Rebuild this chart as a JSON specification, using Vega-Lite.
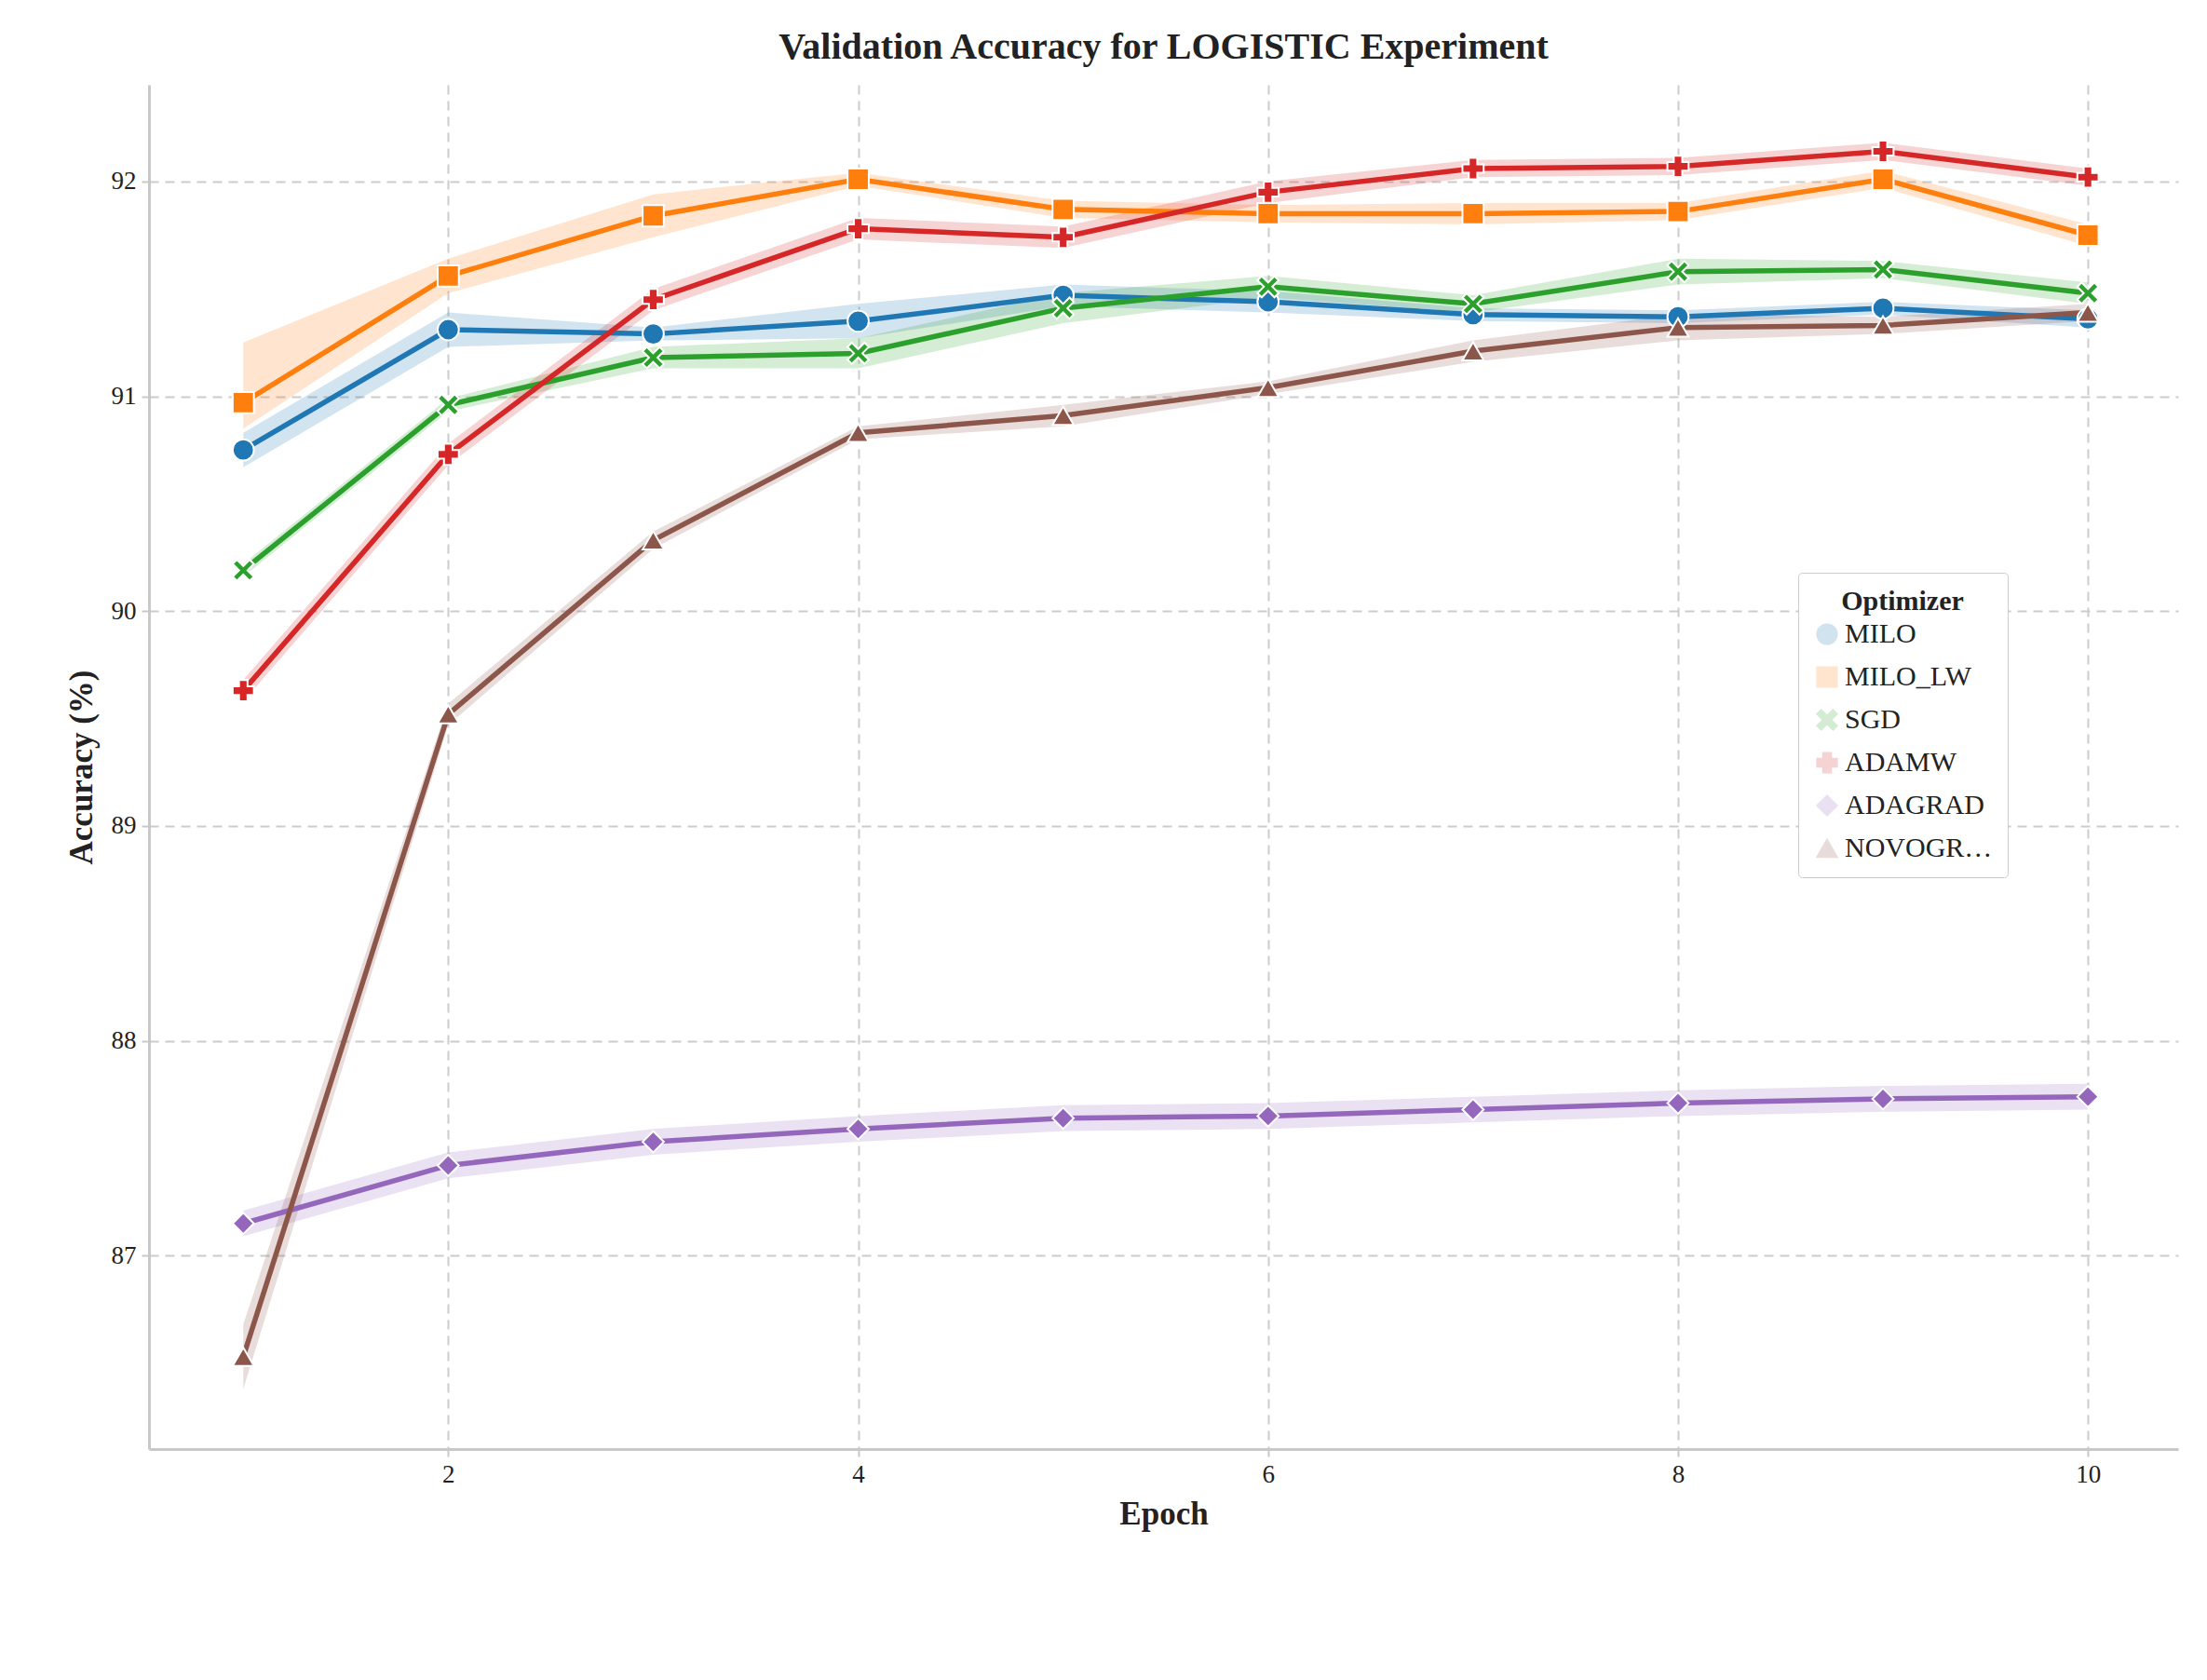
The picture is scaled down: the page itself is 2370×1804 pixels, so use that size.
{
  "$schema": "https://vega.github.io/schema/vega-lite/v6.json",
  "width": 2179,
  "height": 1465,
  "autosize": {"type": "none"},
  "padding": {"left": 160, "top": 91, "right": 31, "bottom": 248},
  "background": "white",
  "config": {
    "font": "Liberation Serif",
    "view": {"stroke": null},
    "axis": {
      "labelFont": "Liberation Serif", "titleFont": "Liberation Serif",
      "labelFontSize": 27, "titleFontSize": 35, "titleFontWeight": "bold",
      "labelColor": "#222", "titleColor": "#222",
      "gridColor": "#cccccc", "gridDash": [10, 7], "gridWidth": 2,
      "domainColor": "#c8c8c8", "domainWidth": 3, "tickColor": "#c8c8c8", "tickSize": 8, "tickWidth": 2, "labelPadding": 6
    },
    "legend": {
      "orient": "none", "legendX": 1771, "legendY": 524,
      "titleFont": "Liberation Serif", "labelFont": "Liberation Serif",
      "titleFontSize": 30, "labelFontSize": 30, "titleColor": "#222", "labelColor": "#222",
      "symbolSize": 450, "rowPadding": 16, "padding": 16,
      "strokeColor": "#cccccc", "fillColor": "white", "cornerRadius": 4,
      "titleAnchor": "middle", "symbolStrokeColor": "white", "symbolStrokeWidth": 2
    }
  },
  "title": {"text": "Validation Accuracy for LOGISTIC Experiment", "font": "Liberation Serif", "fontSize": 40, "fontWeight": "bold", "color": "#222", "offset": 20},
  "data": {"values": [
    {"o":"MILO","e":1,"m":90.75,"lo":90.67,"hi":90.83},{"o":"MILO","e":2,"m":91.31,"lo":91.23,"hi":91.39},{"o":"MILO","e":3,"m":91.29,"lo":91.26,"hi":91.32},{"o":"MILO","e":4,"m":91.35,"lo":91.27,"hi":91.43},{"o":"MILO","e":5,"m":91.47,"lo":91.42,"hi":91.52},{"o":"MILO","e":6,"m":91.44,"lo":91.39,"hi":91.49},{"o":"MILO","e":7,"m":91.38,"lo":91.35,"hi":91.41},{"o":"MILO","e":8,"m":91.37,"lo":91.34,"hi":91.4},{"o":"MILO","e":9,"m":91.41,"lo":91.38,"hi":91.44},{"o":"MILO","e":10,"m":91.36,"lo":91.32,"hi":91.4},
    {"o":"MILO_LW","e":1,"m":90.97,"lo":90.85,"hi":91.25},{"o":"MILO_LW","e":2,"m":91.56,"lo":91.48,"hi":91.64},{"o":"MILO_LW","e":3,"m":91.84,"lo":91.74,"hi":91.94},{"o":"MILO_LW","e":4,"m":92.01,"lo":91.98,"hi":92.04},{"o":"MILO_LW","e":5,"m":91.87,"lo":91.83,"hi":91.91},{"o":"MILO_LW","e":6,"m":91.85,"lo":91.81,"hi":91.89},{"o":"MILO_LW","e":7,"m":91.85,"lo":91.8,"hi":91.9},{"o":"MILO_LW","e":8,"m":91.86,"lo":91.82,"hi":91.9},{"o":"MILO_LW","e":9,"m":92.01,"lo":91.97,"hi":92.05},{"o":"MILO_LW","e":10,"m":91.75,"lo":91.7,"hi":91.8},
    {"o":"SGD","e":1,"m":90.19,"lo":90.16,"hi":90.22},{"o":"SGD","e":2,"m":90.96,"lo":90.93,"hi":90.99},{"o":"SGD","e":3,"m":91.18,"lo":91.13,"hi":91.23},{"o":"SGD","e":4,"m":91.2,"lo":91.13,"hi":91.27},{"o":"SGD","e":5,"m":91.41,"lo":91.34,"hi":91.48},{"o":"SGD","e":6,"m":91.51,"lo":91.46,"hi":91.56},{"o":"SGD","e":7,"m":91.43,"lo":91.39,"hi":91.47},{"o":"SGD","e":8,"m":91.58,"lo":91.52,"hi":91.64},{"o":"SGD","e":9,"m":91.59,"lo":91.55,"hi":91.63},{"o":"SGD","e":10,"m":91.48,"lo":91.43,"hi":91.53},
    {"o":"ADAMW","e":1,"m":89.63,"lo":89.58,"hi":89.68},{"o":"ADAMW","e":2,"m":90.73,"lo":90.68,"hi":90.78},{"o":"ADAMW","e":3,"m":91.45,"lo":91.4,"hi":91.5},{"o":"ADAMW","e":4,"m":91.78,"lo":91.73,"hi":91.83},{"o":"ADAMW","e":5,"m":91.74,"lo":91.69,"hi":91.79},{"o":"ADAMW","e":6,"m":91.95,"lo":91.9,"hi":92.0},{"o":"ADAMW","e":7,"m":92.06,"lo":92.02,"hi":92.1},{"o":"ADAMW","e":8,"m":92.07,"lo":92.03,"hi":92.11},{"o":"ADAMW","e":9,"m":92.14,"lo":92.1,"hi":92.18},{"o":"ADAMW","e":10,"m":92.02,"lo":91.98,"hi":92.06},
    {"o":"ADAGRAD","e":1,"m":87.15,"lo":87.09,"hi":87.21},{"o":"ADAGRAD","e":2,"m":87.42,"lo":87.36,"hi":87.48},{"o":"ADAGRAD","e":3,"m":87.53,"lo":87.47,"hi":87.59},{"o":"ADAGRAD","e":4,"m":87.59,"lo":87.53,"hi":87.65},{"o":"ADAGRAD","e":5,"m":87.64,"lo":87.58,"hi":87.7},{"o":"ADAGRAD","e":6,"m":87.65,"lo":87.59,"hi":87.71},{"o":"ADAGRAD","e":7,"m":87.68,"lo":87.62,"hi":87.74},{"o":"ADAGRAD","e":8,"m":87.71,"lo":87.65,"hi":87.77},{"o":"ADAGRAD","e":9,"m":87.73,"lo":87.67,"hi":87.79},{"o":"ADAGRAD","e":10,"m":87.74,"lo":87.68,"hi":87.8},
    {"o":"NOVOGRAD","e":1,"m":86.53,"lo":86.38,"hi":86.68},{"o":"NOVOGRAD","e":2,"m":89.52,"lo":89.47,"hi":89.57},{"o":"NOVOGRAD","e":3,"m":90.33,"lo":90.29,"hi":90.37},{"o":"NOVOGRAD","e":4,"m":90.83,"lo":90.8,"hi":90.86},{"o":"NOVOGRAD","e":5,"m":90.91,"lo":90.86,"hi":90.96},{"o":"NOVOGRAD","e":6,"m":91.04,"lo":91.01,"hi":91.07},{"o":"NOVOGRAD","e":7,"m":91.21,"lo":91.16,"hi":91.26},{"o":"NOVOGRAD","e":8,"m":91.32,"lo":91.26,"hi":91.38},{"o":"NOVOGRAD","e":9,"m":91.33,"lo":91.29,"hi":91.37},{"o":"NOVOGRAD","e":10,"m":91.39,"lo":91.35,"hi":91.43}
  ]},
  "encoding": {
    "x": {"field": "e", "type": "quantitative", "title": "Epoch", "scale": {"domain": [0.54, 10.44], "nice": false, "zero": false}, "axis": {"values": [2, 4, 6, 8, 10], "format": "d", "titlePadding": 12}},
    "color": {"field": "o", "type": "nominal", "sort": ["MILO","MILO_LW","SGD","ADAMW","ADAGRAD","NOVOGRAD"], "scale": {"domain": ["MILO","MILO_LW","SGD","ADAMW","ADAGRAD","NOVOGRAD"], "range": ["#1f77b4","#ff7f0e","#2ca02c","#d62728","#9467bd","#8c564b"]}, "title": "Optimizer"}
  },
  "layer": [
    {"mark": {"type": "area", "opacity": 0.2}, "encoding": {"y": {"field": "lo", "type": "quantitative"}, "y2": {"field": "hi"}}},
    {"mark": {"type": "line", "strokeWidth": 5.5}, "encoding": {"y": {"field": "m", "type": "quantitative"}}},
    {"mark": {"type": "point", "filled": true, "opacity": 1, "size": 520, "stroke": "white", "strokeWidth": 2},
     "encoding": {
       "y": {"field": "m", "type": "quantitative", "title": "Accuracy (%)", "scale": {"domain": [86.1, 92.45], "nice": false, "zero": false}, "axis": {"values": [87, 88, 89, 90, 91, 92], "format": "d", "titlePadding": 14}},
       "shape": {"field": "o", "type": "nominal", "scale": {"domain": ["MILO","MILO_LW","SGD","ADAMW","ADAGRAD","NOVOGRAD"], "range": ["circle","square","M-1,-0.6L-0.6,-1L0,-0.4L0.6,-1L1,-0.6L0.4,0L1,0.6L0.6,1L0,0.4L-0.6,1L-1,0.6L-0.4,0Z","cross","diamond","triangle-up"]}, "title": "Optimizer"}
     }},
    {"data": {"values": [{"t": "Error bands represent standard error of the mean across runs. Markers indicate run end on walltime plots."}]},
     "mark": {"type": "text", "font": "Liberation Serif", "fontStyle": "italic", "fontSize": 29, "color": "#222", "clip": false},
     "encoding": {"text": {"field": "t"}, "x": {"datum": 5.55, "type": "quantitative"}, "y": {"datum": 85.23, "type": "quantitative"}, "color": {"value": "#222"}}}
  ]
}
